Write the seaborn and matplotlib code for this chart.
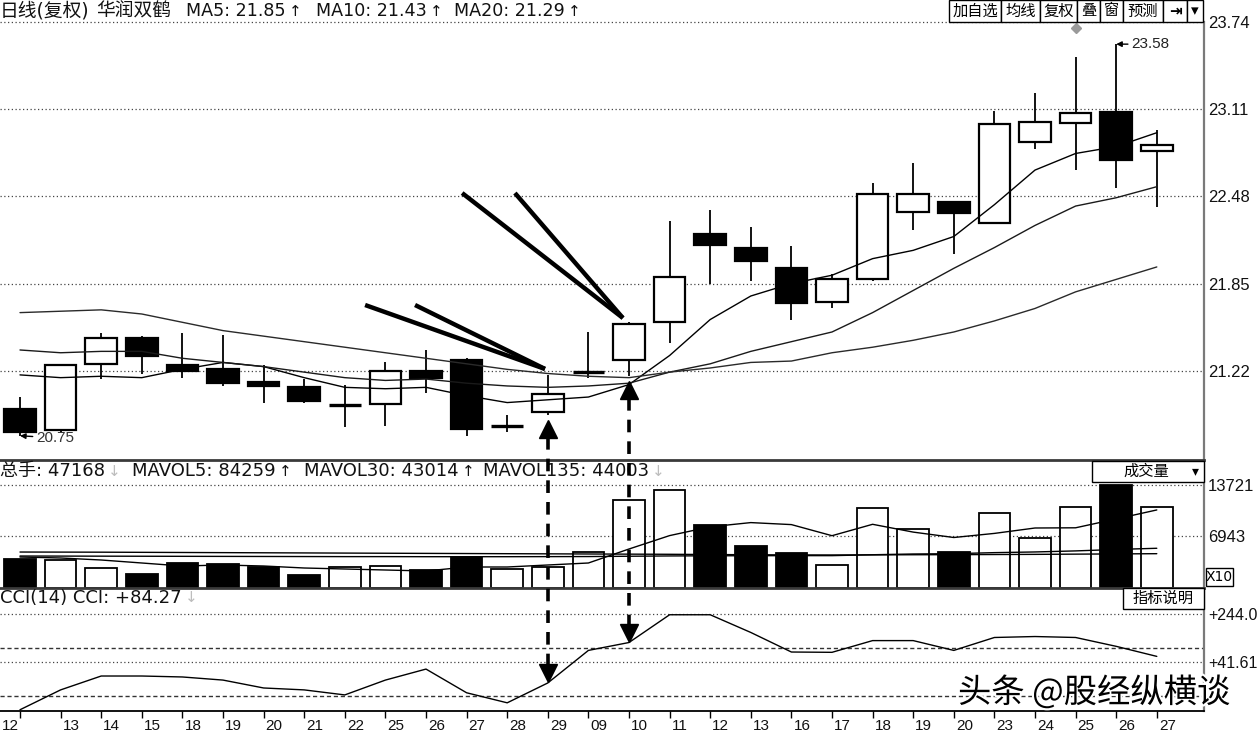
import numpy as np
import matplotlib
matplotlib.use("Agg")
import matplotlib.pyplot as plt
import seaborn as sns
from matplotlib.patches import Rectangle
from matplotlib.lines import Line2D
from matplotlib.transforms import ScaledTranslation, IdentityTransform, blended_transform_factory
import matplotlib.patheffects as pe

# ---------------- data ----------------
dates = ["12", "13", "14", "15", "18", "19", "20", "21", "22", "25", "26", "27", "28", "29",
         "09", "10", "11", "12", "13", "16", "17", "18", "19", "20", "23", "24", "25", "26", "27"]
opens = [20.94, 20.79, 21.27, 21.46, 21.26, 21.23, 21.14, 21.10, 20.97, 20.98, 21.22, 21.30, 20.82, 20.92,
         21.20, 21.30, 21.57, 22.21, 22.11, 21.96, 21.72, 21.88, 22.37, 22.44, 22.29, 22.87, 23.01, 23.09, 22.81]
closes = [20.78, 21.26, 21.46, 21.33, 21.22, 21.13, 21.11, 21.00, 20.97, 21.22, 21.17, 20.80, 20.82, 21.05,
          21.21, 21.56, 21.90, 22.13, 22.01, 21.71, 21.88, 22.50, 22.50, 22.36, 23.00, 23.02, 23.08, 22.74, 22.85]
highs = [21.03, 21.27, 21.49, 21.47, 21.49, 21.48, 21.26, 21.16, 21.12, 21.28, 21.37, 21.31, 20.90, 21.19,
         21.50, 21.57, 22.30, 22.38, 22.26, 22.12, 21.92, 22.58, 22.72, 22.45, 23.10, 23.23, 23.49, 23.58, 22.96]
lows = [20.75, 20.78, 21.16, 21.20, 21.17, 21.11, 20.99, 20.99, 20.81, 20.82, 21.06, 20.75, 20.78, 20.90,
        21.17, 21.18, 21.42, 21.85, 21.87, 21.59, 21.67, 21.87, 22.24, 22.06, 22.28, 22.82, 22.67, 22.54, 22.40]
ma5 = [21.19, 21.17, 21.18, 21.17, 21.23, 21.28, 21.25, 21.17, 21.10, 21.09, 21.10, 21.04, 20.99, 21.01,
       21.03, 21.12, 21.33, 21.59, 21.76, 21.85, 21.91, 22.03, 22.09, 22.19, 22.42, 22.67, 22.79, 22.84, 22.94]
ma10 = [21.37, 21.35, 21.36, 21.36, 21.31, 21.28, 21.25, 21.21, 21.17, 21.15, 21.16, 21.13, 21.11, 21.10,
        21.11, 21.13, 21.21, 21.27, 21.36, 21.43, 21.50, 21.64, 21.80, 21.96, 22.11, 22.27, 22.41, 22.47, 22.55]
ma20 = [21.64, 21.65, 21.66, 21.63, 21.57, 21.51, 21.47, 21.43, 21.39, 21.35, 21.31, 21.27, 21.23, 21.20,
        21.18, 21.17, 21.21, 21.24, 21.28, 21.29, 21.35, 21.39, 21.44, 21.50, 21.58, 21.67, 21.79, 21.88, 21.97]
volume = [3854, 3721, 2658, 1861, 3323, 3190, 2791, 1728, 2791, 2924, 2392, 4120, 2525, 2791, 4784,
          11695, 13024, 8373, 5582, 4717, 3057, 10632, 7841, 4784, 9968, 6645, 10765, 13721, 10765]
mavol5 = [4120, 3987, 3721, 3323, 2924, 3057, 2924, 2658, 2525, 2392, 2259, 2791, 2791, 3057, 3323,
          5183, 6964, 8133, 8692, 8426, 6951, 8466, 7429, 6711, 7256, 7974, 8001, 9177, 10373]
mavol30 = [4250, 4240, 4230, 4220, 4210, 4200, 4190, 4180, 4170, 4170, 4160, 4160, 4160, 4170, 4180,
           4220, 4260, 4280, 4290, 4301, 4300, 4420, 4520, 4560, 4700, 4790, 4930, 5120, 5280]
mavol135 = [4780, 4770, 4760, 4740, 4720, 4700, 4680, 4660, 4640, 4620, 4600, 4580, 4560, 4540, 4520,
            4500, 4480, 4450, 4420, 4400, 4390, 4400, 4420, 4430, 4450, 4470, 4500, 4530, 4560]
cci = [-157, -74, -16, -16, -20, -33, -66, -74, -95, -33, 13, -86, -128, -45, 91, 124, 240, 240, 166,
       84.27, 83, 132, 132, 91, 145, 149, 145, 108, 66]
price_ticks = [23.74, 23.11, 22.48, 21.85, 21.22]
vol_ticks = [13721, 6943]
cci_ticks = [244.0, 41.61]
cci_ticklabels = ["+244.0", "+41.61"]
cci_refs = [100, -100]
arrow_days = [13, 15]          # days marked by the dashed arrows
flag_days = [26]
# thick pointer lines: (start x, start y, tip x, tip y) in day-index / price
pointers = [(8.50, 21.695, 12.93, 21.233), (9.73, 21.695, 12.93, 21.233),
            (10.89, 22.504, 14.85, 21.601), (12.19, 22.504, 14.85, 21.601)]

# ---------------- style ----------------
sns.set_theme(style="white")
plt.rcParams['font.family'] = ['DejaVu Sans', 'Noto Sans CJK SC']
plt.rcParams['axes.unicode_minus'] = False

W, H = 1258, 732
fig = plt.figure(figsize=(W / 100, H / 100), dpi=100, facecolor='white')
renderer = fig.canvas.get_renderer()


def rect(x0, y0, x1, y1):
    return [x0 / W, 1 - y1 / H, (x1 - x0) / W, (y1 - y0) / H]


def fx(x):
    return x / W


def fy(y):
    return 1 - y / H


ax_p = fig.add_axes(rect(0, 22, 1204, 460))
ax_v = fig.add_axes(rect(0, 460, 1204, 588))
ax_c = fig.add_axes(rect(0, 588, 1204, 711))

n = len(dates)
idx = np.arange(n)
o, c, h, l = map(np.array, (opens, closes, highs, lows))
up = c >= o

for ax in (ax_p, ax_v, ax_c):
    ax.set_xlim(-20 / 40.6, 1184 / 40.6)
    ax.set_facecolor('white')
    for s in ('left', 'top', 'bottom'):
        ax.spines[s].set_visible(False)
    ax.spines['right'].set_color('#7a7a7a')
    ax.spines['right'].set_linewidth(1.6)
    ax.grid(False)

ax_p.set_ylim(20.575, 23.74)
ax_v.set_ylim(0, 17011)
ax_c.set_ylim(-162.2, 351.8)

for ax in (ax_v, ax_c):
    ax.spines['top'].set_visible(True)
    ax.spines['top'].set_color('#3a3a3a')
    ax.spines['top'].set_linewidth(2.0)
ax_c.spines['bottom'].set_visible(True)
ax_c.spines['bottom'].set_color('black')
ax_c.spines['bottom'].set_linewidth(1.3)

dot = (0, (1, 2))
for v in price_ticks:
    ax_p.axhline(v, color='#444444', lw=0.9, ls=dot, zorder=1, clip_on=False)
for v in vol_ticks:
    ax_v.axhline(v, color='#444444', lw=0.9, ls=dot, zorder=1)
for v in cci_ticks:
    ax_c.axhline(v, color='#444444', lw=0.9, ls=dot, zorder=1)
for v in cci_refs:
    ax_c.axhline(v, color='#333333', lw=1.0, ls=(0, (3, 2)), zorder=1)

# ---------------- candles ----------------
ax_p.vlines(idx, l, h, color='black', lw=1.3, zorder=2)
body_lo = np.minimum(o, c)
body_h = np.abs(c - o)
doji = body_h < 0.015
cols = np.where(up, 'white', 'black')
m = ~doji
ax_p.bar(idx[m], body_h[m], bottom=body_lo[m], width=0.78, color=cols[m],
         edgecolor='black', linewidth=1.6, zorder=3)
ax_p.hlines(c[doji], idx[doji] - 0.39, idx[doji] + 0.39, color='black', lw=2.4, zorder=3)

for ser, col in ((ma5, 'black'), (ma10, '#1a1a1a'), (ma20, '#2a2a2a')):
    sns.lineplot(x=idx, y=ser, ax=ax_p, color=col, lw=1.0, zorder=4, legend=False)

# ---------------- volume ----------------
ax_v.bar(idx, volume, width=0.78, color=cols, edgecolor='black', linewidth=1.3, zorder=2)
for ser in (mavol5, mavol30, mavol135):
    sns.lineplot(x=idx, y=ser, ax=ax_v, color='black', lw=1.0, zorder=4, legend=False)

# ---------------- CCI ----------------
sns.lineplot(x=idx, y=cci, ax=ax_c, color='black', lw=1.0, zorder=4, legend=False)

for ax in (ax_p, ax_v, ax_c):
    ax.set_xlabel('')
    ax.set_ylabel('')

# right axis labels
num_font = 'Liberation Sans'
for ax, ticks, labs, fs in ((ax_p, price_ticks, [f"{v:.2f}" for v in price_ticks], 12),
                            (ax_v, vol_ticks, [str(v) for v in vol_ticks], 12),
                            (ax_c, cci_ticks, cci_ticklabels, 11.5)):
    ax.yaxis.tick_right()
    ax.set_yticks(ticks)
    ax.set_yticklabels(labs, fontfamily=num_font, fontsize=fs, color='#111111')
    ax.tick_params(axis='y', length=0, pad=3)

ax_p.set_xticks([])
ax_v.set_xticks([])
ax_c.set_xticks(idx)
ax_c.set_xticklabels(dates, fontfamily=num_font, fontsize=11, color='#111111', ha='left')
ax_c.tick_params(axis='x', direction='out', length=5, width=1.0, color='black', pad=1, bottom=True)
for k, lab in enumerate(ax_c.get_xticklabels()):
    dx = 2 if k > 0 else -18
    lab.set_transform(lab.get_transform() + ScaledTranslation(dx / 100, 0, fig.dpi_scale_trans))

# ---------------- annotations ----------------
for x0, y0, x1, y1 in pointers:
    ax_p.plot([x0, x1], [y0, y1], color='black', lw=3.2, solid_capstyle='butt', zorder=6)

ax_p.annotate(f"{lows[0]:.2f}", xy=(0, lows[0]), xytext=(16, -2), textcoords='offset pixels',
              ha='left', va='center', fontsize=11, fontfamily=num_font, color='#333333',
              arrowprops=dict(arrowstyle='-|>', color='black', lw=1.0, mutation_scale=8,
                              shrinkA=0, shrinkB=0), zorder=7)
top_i = int(np.argmax(h))
ax_p.annotate(f"{highs[top_i]:.2f}", xy=(top_i, highs[top_i]), xytext=(15, 0), textcoords='offset pixels',
              ha='left', va='center', fontsize=11, fontfamily=num_font, color='#222222',
              arrowprops=dict(arrowstyle='-|>', color='black', lw=1.0, mutation_scale=8,
                              shrinkA=0, shrinkB=0), zorder=7)
flag_tr = blended_transform_factory(ax_p.transData, ax_p.transAxes)
for d in flag_days:
    ax_p.plot([d], [0.986], marker='D', ms=5, color='#9a9a9a', transform=flag_tr,
              clip_on=False, zorder=7)

# dashed arrows between the price panel and the CCI panel (display pixels)
ident = IdentityTransform()
for d in arrow_days:
    xd, ylow = ax_p.transData.transform((d, lows[d]))
    _, ycci = ax_c.transData.transform((d, cci[d]))
    apex = ylow - 5
    tip = ycci + 1
    fig.add_artist(Line2D([xd], [apex - 9], marker='^', ms=13, color='black',
                          transform=ident, zorder=8))
    fig.add_artist(Line2D([xd], [tip + 9], marker='v', ms=13, color='black',
                          transform=ident, zorder=8))
    fig.add_artist(Line2D([xd, xd], [apex - 17, tip + 17], color='black', lw=2.6,
                          ls=(0, (3.5, 2.5)), transform=ident, zorder=8))

# ---------------- header texts ----------------
def piece(x, y, s, color='#111111', fs=13, **kw):
    t = fig.text(fx(x), fy(y), s, ha='left', va='center', fontsize=fs, color=color, **kw)
    return t.get_window_extent(renderer).x1


def with_arrow(x, y, s, arrow, acolor, fs=13):
    end = piece(x, y, s, fs=fs)
    piece(end + 3, y, arrow, color=acolor, fs=11)


grey = '#bdbdbd'
end = piece(0, 11, "日线(复权)", fs=13.5)
piece(end + 6, 11, "华润双鹤", fs=13.5)
with_arrow(186, 11, "MA5: 21.85", "↑", '#111111', fs=12.6)
with_arrow(316, 11, "MA10: 21.43", "↑", '#111111', fs=12.6)
with_arrow(454, 11, "MA20: 21.29", "↑", '#111111', fs=12.6)

with_arrow(0, 471, "总手: 47168", "↓", grey)
with_arrow(132, 471, "MAVOL5: 84259", "↑", '#111111')
with_arrow(304, 471, "MAVOL30: 43014", "↑", '#111111')
with_arrow(483, 471, "MAVOL135: 44003", "↓", grey)

with_arrow(0, 598, "CCI(14) CCI: +84.27", "↓", grey)

# toolbar buttons
edges = [949, 1001, 1040, 1077, 1100, 1123, 1163, 1187, 1203]
btns = ["加自选", "均线", "复权", "叠", "窗", "预测", "⇥", "▾"]
for k, lab in enumerate(btns):
    x0, x1 = edges[k], edges[k + 1]
    fig.add_artist(Rectangle((fx(x0), fy(22)), (x1 - x0) / W, 22 / H, transform=fig.transFigure,
                             facecolor='white', edgecolor='black', lw=1.0, zorder=9))
    fig.text(fx((x0 + x1) / 2), fy(11), lab, ha='center', va='center', fontsize=11,
             color='black', zorder=10, fontweight='bold' if lab in ("⇥", "▾") else 'normal')


# panel boxes
def box(x0, y0, x1, y1, lab, fs=11, tx=None):
    fig.add_artist(Rectangle((fx(x0), fy(y1)), (x1 - x0) / W, (y1 - y0) / H, transform=fig.transFigure,
                             facecolor='white', edgecolor='black', lw=1.0, zorder=9))
    fig.text(fx(tx if tx is not None else (x0 + x1) / 2), fy((y0 + y1) / 2), lab, ha='center',
             va='center', fontsize=fs, color='black', zorder=10)


box(1092, 461, 1204, 482, "成交量", tx=1146)
fig.text(fx(1195), fy(471), "▾", ha='center', va='center', fontsize=10, color='black', zorder=10)
box(1206, 568, 1233, 586, "X10", fs=10)
box(1123, 588, 1204, 609, "指标说明", fs=11)

# watermark
fig.text(fx(958), fy(693), "头条 @股经纵横谈", ha='left', va='center', fontsize=24, color='black',
         fontfamily=['Noto Sans CJK SC', 'DejaVu Sans'], zorder=11,
         path_effects=[pe.withStroke(linewidth=3, foreground='white')])

fig.savefig("out.png", dpi=100, facecolor='white')
